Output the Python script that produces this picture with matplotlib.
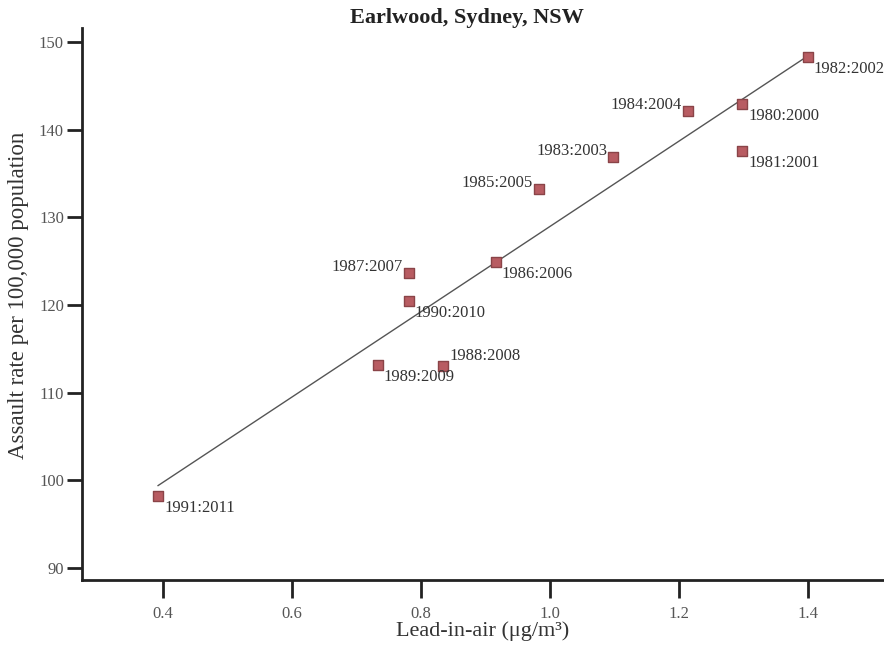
import numpy as np
import matplotlib.pyplot as plt

# lead-in-air (x) vs assault rate (y), one point per year pair
labels = ['1980:2000', '1981:2001', '1982:2002', '1983:2003', '1984:2004', '1985:2005',
          '1986:2006', '1987:2007', '1988:2008', '1989:2009', '1990:2010', '1991:2011']
lead = [1.298, 1.298, 1.400, 1.098, 1.214, 0.983,
        0.916, 0.781, 0.834, 0.733, 0.781, 0.392]
assault = [142.9, 137.6, 148.3, 136.9, 142.1, 133.2,
           124.9, 123.7, 113.0, 113.1, 120.5, 98.2]
# where each label sits relative to its marker
label_side = ['lr', 'lr', 'lr', 'ul', 'ul', 'ul',
              'lr', 'ul', 'ur', 'lr', 'lr', 'lr']

plt.rcParams['font.family'] = ['Liberation Serif', 'DejaVu Serif']

fig = plt.figure(figsize=(8.84, 6.5), dpi=100)
ax = fig.add_axes([82 / 884, 1 - 580 / 650, 1 - 82 / 884, (580 - 28) / 650])

# fitted line
slope, intercept = np.polyfit(lead, assault, 1)
xs = np.array([min(lead), max(lead)])
ax.plot(xs, slope * xs + intercept, color='#555555', lw=1, zorder=1)

ax.scatter(lead, assault, marker='s', s=50, facecolor='#b85c62',
           edgecolor='#8a4448', linewidth=1, zorder=3)

offsets = {'lr': ((6, -12), 'left', 'center'),
           'ul': ((-6, 6), 'right', 'center'),
           'ur': ((6, 10), 'left', 'center')}
for lab, x, y, side in zip(labels, lead, assault, label_side):
    off, ha, va = offsets[side]
    ax.annotate(lab, (x, y), xytext=off, textcoords='offset pixels',
                ha=ha, va=va, fontsize=12, color='#333333')

ax.set_xlim(0.274, 1.518)
ax.set_ylim(88.63, 151.6)
ax.set_xticks([0.4, 0.6, 0.8, 1.0, 1.2, 1.4])
ax.set_xticklabels(['0.4', '0.6', '0.8', '1.0', '1.2', '1.4'])
ax.set_yticks([90, 100, 110, 120, 130, 140, 150])

for s in ['top', 'right']:
    ax.spines[s].set_visible(False)
for s in ['left', 'bottom']:
    ax.spines[s].set_linewidth(2)
    ax.spines[s].set_color('#222222')
ax.tick_params(axis='x', length=13, width=2, color='#222222', labelsize=12,
               labelcolor='#555555', pad=6)
ax.tick_params(axis='y', length=11, width=2, color='#222222', labelsize=12,
               labelcolor='#555555', pad=2)

ax.set_xlabel('Lead-in-air (\u03bcg/m\u00b3)', fontsize=16, color='#333333')
ax.set_ylabel('Assault rate per 100,000 population', fontsize=16.5, color='#333333')
ax.xaxis.set_label_coords(0.5, -0.074)
ax.yaxis.set_label_coords(-0.066, 0.515)

fig.text(467 / 884, 1 - 18 / 650, 'Earlwood, Sydney, NSW', ha='center', va='center',
         fontsize=16, fontweight='bold', color='#222222')

fig.savefig('out.png', dpi=100)
